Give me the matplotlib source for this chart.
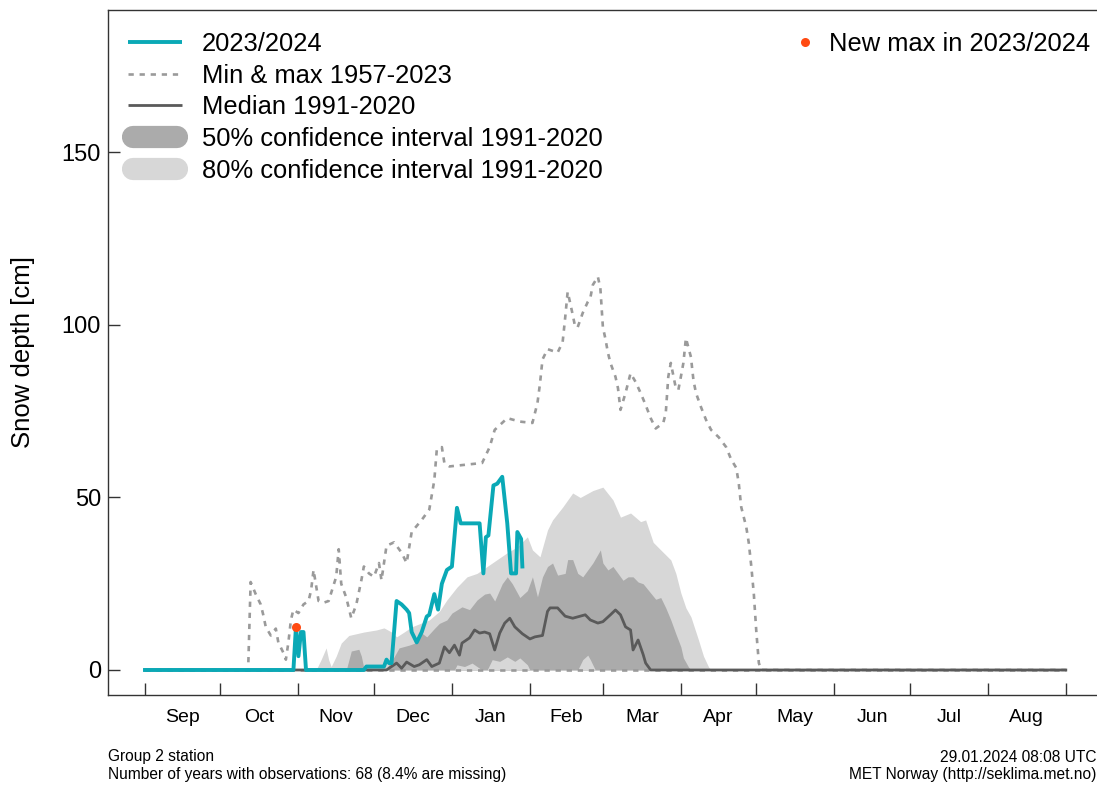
import matplotlib
matplotlib.use("Agg")
import matplotlib.pyplot as plt
from matplotlib.lines import Line2D
from matplotlib.legend_handler import HandlerBase

plt.rcParams['font.family'] = ['Liberation Sans', 'DejaVu Sans']

# day 0 = 1 Sep 2023, season is 366 days long (leap year)
month_starts = [0, 30, 61, 91, 122, 153, 182, 213, 243, 274, 304, 335, 366]
month_names = ['Sep', 'Oct', 'Nov', 'Dec', 'Jan', 'Feb', 'Mar', 'Apr',
               'May', 'Jun', 'Jul', 'Aug']

# 2023/2024 observations
obs_day = [0, 59, 60, 61, 62, 63, 64, 87, 88, 95, 96, 97, 98, 100, 102, 104,
           105, 106, 108, 110, 112, 113, 115, 116.5, 118, 120, 122, 124, 125.5,
           133, 134.5, 135.5, 136.5, 138.5, 140, 141, 142, 144, 145.5, 147.5,
           148, 149.5, 150]
obs_val = [0, 0, 12.5, 4, 11, 11, 0, 0, 1, 1, 3, 2, 2, 20, 19, 17.5,
           16.5, 11, 8, 11, 15.5, 16, 22, 17.5, 25, 29, 30, 47, 42.5,
           42.5, 28, 38.5, 39, 53.5, 54, 55, 56, 42.5, 28, 28,
           40, 38, 30]

new_max_day = [60]
new_max_val = [12.5]

# historical max / min 1957-2023
max_day = [0, 41, 42, 44, 46, 47, 48, 50, 52, 53, 55, 56, 57, 58, 59, 61, 63,
           65, 66, 67, 69, 71, 73, 76, 77, 78, 80, 82, 84, 86, 87, 89, 91, 93,
           94, 96, 99, 102, 104, 106, 110, 113, 115, 116, 118, 119, 121, 134,
           137, 139, 144, 149, 154, 156, 157, 158, 160, 164, 166, 167, 168,
           169, 170, 171, 172, 174, 176, 177, 178, 180, 181, 182, 183, 184,
           185, 187, 188, 189, 191, 193, 195, 197, 199, 201, 203, 206, 207,
           208, 209, 211, 212, 213, 214, 215, 217, 218, 219, 221, 223, 225,
           228, 231, 233, 235, 236, 237, 239, 240, 241, 242, 243, 244, 245,
           366]
max_val = [0, 0, 25.5, 22, 19, 16, 12.5, 10, 12, 8, 5, 3, 8, 14.5, 17.5, 16.5,
           19, 20, 23, 29, 20, 19.5, 20, 27, 35, 25, 21, 15, 19, 26, 30, 28,
           27, 31, 26, 36, 37, 34, 31, 40, 43.5, 46.5, 55, 64, 64.6, 60, 59,
           60, 64.6, 69.6, 73, 72, 71.6, 77.4, 83, 90, 93, 92, 95, 102, 109.6,
           106.4, 103, 99.4, 99.4, 103.5, 106.7, 107.8, 111.6, 114, 110.7,
           99.4, 96, 92, 89, 85, 81.7, 75.4, 80.3, 86, 83.5, 80.3, 76.8, 73,
           70, 71.6, 74.5, 85, 89, 81.7, 81.2, 85, 89, 96.2, 90.7, 84, 80.3,
           76.2, 72.5, 69.6, 67.5, 64.6, 61, 58.6, 54.2, 47.2, 41.4, 36.8, 30,
           22, 11, 2, 0, 0]
min_day = [0, 366]
min_val = [0, 0]

# median 1991-2020
med_day = [0, 96, 98, 100, 102, 104, 107, 109, 112, 114, 117, 119, 121, 123,
           125, 126, 129, 131, 133, 135, 137, 139, 141, 143, 145, 147, 150,
           153, 155, 158, 160, 161, 164, 167, 170, 172, 175, 177, 180, 182,
           185, 187, 189, 191, 193, 194, 196, 198, 199, 201, 366]
med_val = [0, 0, 1, 2, 0.5, 2.3, 1, 1.5, 3, 1, 2, 6.7, 5, 7.2, 4.3, 7.8, 9.3,
           11.6, 10.7, 11, 10.5, 5.8, 10.7, 13.6, 15, 12.5, 10.5, 9, 9.6, 10,
           17, 18, 18, 15.6, 15, 15.4, 16, 14.5, 13.6, 14, 16, 17.4, 16, 12.5,
           11.6, 5.8, 8.7, 4.5, 2, 0, 0]

# 90th percentile (top of 80% interval, bottom is 0)
p90_day = [0, 68, 70, 72, 73, 74, 76, 78, 81, 87, 92, 95, 98, 100, 103, 106,
           113, 117, 120, 124, 128, 132, 136, 140, 144, 148, 152, 154, 157,
           160, 162, 166, 170, 173, 178, 182, 186, 189, 193, 197, 199, 202,
           205, 209, 211, 213, 215, 217, 220, 222, 224, 225, 366]
p90_val = [0, 0, 3, 6.4, 3, 1, 4, 7.8, 10, 11, 11.6, 12.2, 11, 9.6, 11, 12.5,
           14.5, 17, 20.3, 24, 27, 28, 30, 32, 34, 35.7, 38.6, 34.8, 32.8,
           40.6, 43.5, 47.2, 51.3, 50, 52, 53, 49.3, 44.3, 45.5, 43, 43.5, 37,
           34.8, 31.9, 28, 22.3, 18, 15.4, 8.7, 4, 0.9, 0, 0]

# 75th percentile (top of 50% interval)
p75_day = [0, 80, 82, 85, 86, 87, 96, 99, 101, 105, 108, 110, 112, 115, 117,
           120, 122, 126, 129, 132, 135, 137, 139, 142, 144, 146, 149, 152,
           154, 156, 158, 160, 162, 164, 167, 168, 170, 172, 174, 176, 178,
           181, 182, 184, 186, 188, 190, 192, 194, 196, 198, 201, 203, 205,
           207, 209, 211, 213, 214, 216, 217, 366]
p75_val = [0, 0, 5.5, 6, 4, 0.5, 0.5, 3.8, 6.4, 7.2, 8, 10.7, 9.6, 12, 13.5,
           14.5, 16.5, 18.3, 17.5, 20.3, 22, 22.3, 20, 25, 27, 25, 21, 23, 27,
           21.2, 27, 30, 31, 27.5, 28, 32, 32, 28, 27, 29, 31, 34.8, 31, 29,
           30, 28, 26, 27, 27, 25.5, 25, 22.3, 20.5, 21, 18, 14.5, 10.5, 6.7,
           3.5, 0.9, 0, 0]

# 25th percentile (bottom of 50% interval)
p25_day = [0, 123, 124, 127, 130, 132, 134, 136, 138, 141, 144, 147, 149, 152,
           153, 172, 174, 176, 177, 179, 366]
p25_val = [0, 0, 1.5, 1, 2, 1, 0, 0, 3, 2.5, 3.8, 2.5, 3.5, 1.5, 0, 0, 3, 4.3,
           3, 0, 0]

teal = '#0aa9b6'
light = '#d7d7d7'
dark = '#ababab'
med_col = '#5a5a5a'
dash_col = '#9a9a9a'
red = '#ff4a12'
axis_col = '#333333'


class BarHandle(HandlerBase):
    def __init__(self, color, lw, inset, ls='-', cap='butt'):
        super().__init__()
        self.color, self.lw, self.inset, self.ls, self.cap = color, lw, inset, ls, cap

    def create_artists(self, legend, orig, xdescent, ydescent, width, height,
                       fontsize, trans):
        y = height / 2 - ydescent
        ln = Line2D([-xdescent + self.inset, width - xdescent - self.inset], [y, y],
                    color=self.color, lw=self.lw, linestyle=self.ls,
                    solid_capstyle=self.cap, transform=trans)
        if self.ls != '-':
            ln.set_dashes((2.0, 2.2))
        return [ln]


fig = plt.figure(figsize=(10.97, 7.85), dpi=100)
ax = fig.add_axes([108 / 1097, 90 / 785, 989 / 1097, 685 / 785])

ax.fill_between(p90_day, 0, p90_val, color=light, lw=0)
ax.fill_between(p75_day, 0, p75_val, color=dark, lw=0)
ax.fill_between(p25_day, 0, p25_val, color=light, lw=0)
ax.plot(min_day, min_val, color=dash_col, lw=1.9, dashes=(2.0, 2.2))
ax.plot(max_day, max_val, color=dash_col, lw=1.9, dashes=(2.0, 2.2))
ax.plot(med_day, med_val, color=med_col, lw=2.0)
ax.plot(obs_day, obs_val, color=teal, lw=2.8, solid_joinstyle='round')
ax.plot(new_max_day, new_max_val, 'o', color=red, ms=6.5, mec='none')

ax.set_xlim(-14.7, 378.4)
ax.set_ylim(-7.25, 191.3)

ax.set_xticks(month_starts)
ax.set_xticklabels([])
mids = [(a + b) / 2 for a, b in zip(month_starts[:-1], month_starts[1:])]
ax.set_xticks(mids, minor=True)
ax.set_xticklabels(month_names, minor=True, fontsize=14)
ax.tick_params(axis='x', which='major', direction='in', length=8.5, width=1,
               color=axis_col)
ax.tick_params(axis='x', which='minor', length=0, pad=10)
ax.set_yticks([0, 50, 100, 150])
ax.tick_params(axis='y', direction='in', length=8.5, width=1, color=axis_col,
               labelsize=17, pad=5)

for side in ['left', 'top', 'bottom']:
    ax.spines[side].set_color(axis_col)
    ax.spines[side].set_linewidth(1)
ax.spines['right'].set_visible(False)

ax.set_ylabel('Snow depth [cm]', fontsize=18.5)
ax.yaxis.set_label_coords(-0.074, 0.5)

handles = [Line2D([], []) for _ in range(5)]
labels = ['2023/2024', 'Min & max 1957-2023', 'Median 1991-2020',
          '50% confidence interval 1991-2020', '80% confidence interval 1991-2020']
hmap = {
    handles[0]: BarHandle(teal, 2.8, 4.3),
    handles[1]: BarHandle(dash_col, 1.9, 4.3, ls='--'),
    handles[2]: BarHandle(med_col, 2.0, 4.3),
    handles[3]: BarHandle(dark, 16, 8, cap='round'),
    handles[4]: BarHandle(light, 16, 8, cap='round'),
}
leg = ax.legend(handles, labels, handler_map=hmap, loc='upper left',
                bbox_to_anchor=(14 / 989, 1 - 22 / 685), frameon=False,
                fontsize=18.4, handlelength=2.58, handletextpad=0.55,
                labelspacing=0.3, borderpad=0, borderaxespad=0)
ax.add_artist(leg)

dot = Line2D([], [], marker='o', ls='none', color=red, ms=6.5, mec='none')
ax.legend([dot], ['New max in 2023/2024'], loc='upper right',
          bbox_to_anchor=(982 / 989, 1 - 22 / 685), frameon=False, fontsize=18.4,
          handlelength=1.0, handletextpad=0.45, borderpad=0, borderaxespad=0)

fig.text(108 / 1097, 1 - 757 / 785, 'Group 2 station', fontsize=11.2,
         va='center', ha='left')
fig.text(108 / 1097, 1 - 775 / 785,
         'Number of years with observations: 68 (8.4% are missing)',
         fontsize=11.2, va='center', ha='left')
fig.text(1096 / 1097, 1 - 757 / 785, '29.01.2024 08:08 UTC', fontsize=11.2,
         va='center', ha='right')
fig.text(1096 / 1097, 1 - 775 / 785, 'MET Norway (http://seklima.met.no)',
         fontsize=11.2, va='center', ha='right')

fig.savefig('out.png', dpi=100)
